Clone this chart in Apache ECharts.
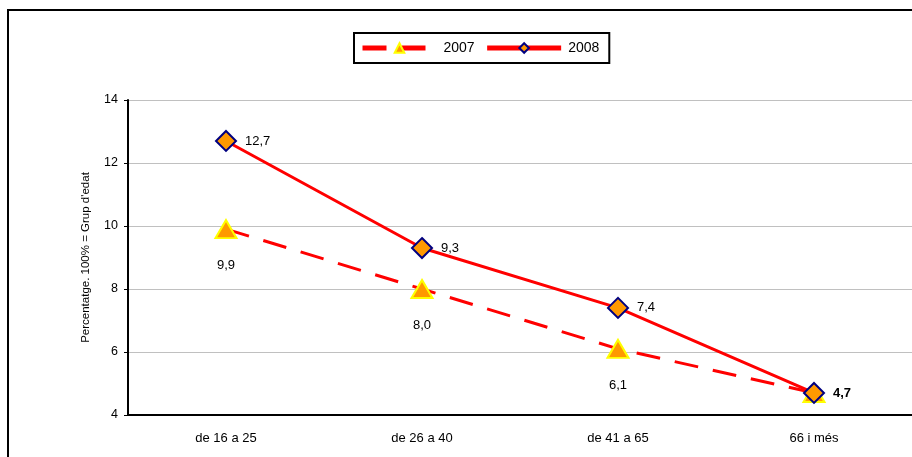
<!DOCTYPE html>
<html>
<head>
<meta charset="utf-8">
<script src="https://cdn.jsdelivr.net/npm/echarts@6/dist/echarts.min.js"></script>
<style>html,body{margin:0;padding:0;background:#fff}#c{width:912px;height:457px}</style>
</head>
<body>
<div id="c"></div>
<script>
var categories = ['de 16 a 25', 'de 26 a 40', 'de 41 a 65', '66 i més'];
var values2007 = [9.9, 8.0, 6.1, 4.7];
var values2008 = [12.7, 9.3, 7.4, 4.7];
var seriesNames = ['2007', '2008'];
var yTicks = [4, 6, 8, 10, 12, 14];

var fmt = function (p) { return String(p.value.toFixed ? p.value.toFixed(1) : p.value).replace('.', ','); };
var font = 'Liberation Sans, Arial, sans-serif';

var chart = echarts.init(document.getElementById('c'));
chart.setOption({
  animation: false,
  textStyle: { fontFamily: font },
  graphic: [{
    type: 'rect', z: -1,
    shape: { x: 8, y: 10, width: 1000, height: 1000 },
    style: { fill: 'none', stroke: '#000', lineWidth: 2 }
  }],
  legend: {
    left: 354, top: 33,
    padding: [8, 10, 8, 6],
    itemWidth: 74, itemHeight: 12, itemGap: 10,
    borderColor: '#000', borderWidth: 2,
    lineStyle: { width: 5 },
    textStyle: { fontSize: 14, color: '#000', fontFamily: font, padding: [0, 0, 0, 2] },
    data: seriesNames
  },
  grid: { left: 128, top: 100, width: 787, bottom: 42 },
  xAxis: {
    type: 'category', data: categories,
    axisLine: { lineStyle: { color: '#000', width: 2 } },
    axisTick: { lineStyle: { color: '#000' }, length: 5 },
    axisLabel: { color: '#000', fontSize: 13, margin: 17, fontFamily: font }
  },
  yAxis: {
    type: 'value', min: yTicks[0], max: yTicks[yTicks.length - 1], interval: 2,
    name: "Percentatge. 100% = Grup d'edat",
    nameLocation: 'middle', nameGap: 36,
    nameTextStyle: { color: '#000', fontSize: 11.5, fontFamily: font },
    axisLine: { show: true, lineStyle: { color: '#000', width: 2 } },
    axisTick: { show: true, length: 4, lineStyle: { color: '#000' } },
    axisLabel: { color: '#000', fontSize: 12.5, margin: 10, fontFamily: font },
    splitLine: { lineStyle: { color: '#c0c0c0', width: 1 } }
  },
  series: [{
    name: seriesNames[0], type: 'line',
    data: values2007.map(function (v, i) { return i === values2007.length - 1 ? { value: v, label: { show: false } } : v; }),
    symbol: 'triangle', symbolSize: [21, 18],
    lineStyle: { color: '#ff0000', width: 3, type: [24, 15] },
    itemStyle: { color: '#ff9900', borderColor: '#ffff00', borderWidth: 2 },
    label: { show: true, position: 'bottom', distance: 20, color: '#000', fontSize: 13, formatter: fmt }
  }, {
    name: seriesNames[1], type: 'line',
    data: values2008.map(function (v, i) { return i === values2008.length - 1 ? { value: v, label: { fontWeight: 'bold' } } : v; }),
    symbol: 'diamond', symbolSize: 20,
    lineStyle: { color: '#ff0000', width: 3 },
    itemStyle: { color: '#ff9900', borderColor: '#000080', borderWidth: 2 },
    label: { show: true, position: 'right', distance: 8, color: '#000', fontSize: 13, formatter: fmt }
  }]
});
</script>
</body>
</html>
